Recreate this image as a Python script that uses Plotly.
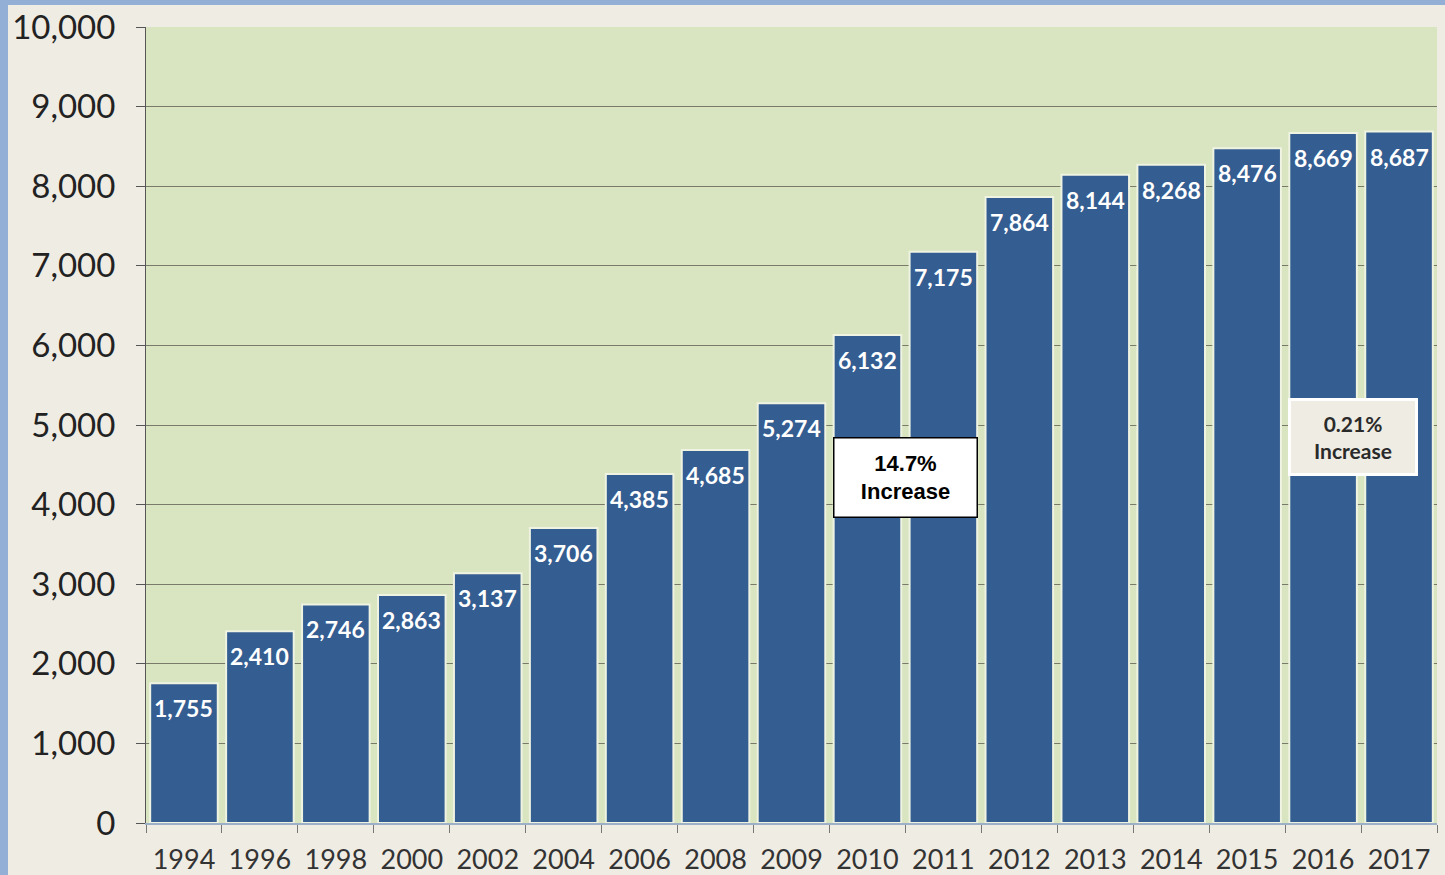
import plotly.graph_objects as go

years = ["1994", "1996", "1998", "2000", "2002", "2004", "2006", "2008", "2009",
         "2010", "2011", "2012", "2013", "2014", "2015", "2016", "2017"]
values = [1755, 2410, 2746, 2863, 3137, 3706, 4385, 4685, 5274,
          6132, 7175, 7864, 8144, 8268, 8476, 8669, 8687]
y_ticks = [0, 1000, 2000, 3000, 4000, 5000, 6000, 7000, 8000, 9000, 10000]
y_tick_labels = ["0", "1,000", "2,000", "3,000", "4,000", "5,000",
                 "6,000", "7,000", "8,000", "9,000", "10,000"]
bar_labels = [f"{v:,}" for v in values]

FONT = "Lato"

fig = go.Figure()
fig.add_trace(go.Bar(
    x=years, y=values,
    marker=dict(color="#345D91", line=dict(color="#EEF3E2", width=2)),
))

for i, (v, lbl) in enumerate(zip(values, bar_labels)):
    fig.add_annotation(
        x=i, y=v, xref="x", yref="y", text=f"<b>{lbl}</b>",
        showarrow=False, yanchor="top", yshift=-9,
        font=dict(family=FONT, size=23, color="white"),
    )

fig.update_layout(
    width=1445, height=875,
    margin=dict(l=146, r=8, t=27, b=52),
    paper_bgcolor="#EFECE4",
    plot_bgcolor="#D9E5C0",
    bargap=0.11,
    showlegend=False,
)
fig.update_yaxes(
    range=[0, 10000], tickvals=y_ticks, ticktext=y_tick_labels,
    showgrid=True, gridcolor="#7A7A6A", gridwidth=1,
    ticks="outside", ticklen=9, tickcolor="#555555",
    showline=True, linecolor="#555555", linewidth=1,
    tickfont=dict(family=FONT, size=33, color="#222222"),
    zeroline=False, ticklabelstandoff=14, automargin=False,
)
fig.update_xaxes(
    type="category",
    tickson="boundaries", ticks="outside", ticklen=8, tickcolor="#777777",
    showline=True, linecolor="#9DB0C8", linewidth=2,
    tickfont=dict(family=FONT, size=27, color="#333333"),
    ticklabelstandoff=12, automargin=False,
)

# annotations
fig.add_annotation(
    x=9.5, y=4340, xref="x", yref="y",
    text="<b>14.7%<br>Increase</b>", showarrow=False,
    font=dict(family="Liberation Sans", size=22, color="black"),
    bgcolor="white", bordercolor="black", borderwidth=1.5,
    borderpad=12, width=118,
)
fig.add_annotation(
    x=15.4, y=4850, xref="x", yref="y",
    text="<b>0.21%<br>Increase</b>", showarrow=False,
    font=dict(family=FONT, size=21, color="#2A2A2A"),
    bgcolor="#EFECE4", bordercolor="#FFFFFF", borderwidth=3,
    borderpad=10, width=104,
)

# page border strips
fig.add_shape(type="rect", xref="paper", yref="paper",
              x0=-146/1291, x1=-138/1291, y0=-52/796, y1=(796+27)/796,
              fillcolor="#94AFD6", line_width=0, layer="below")
fig.add_shape(type="rect", xref="paper", yref="paper",
              x0=-146/1291, x1=(1291+8)/1291, y0=(796+22)/796, y1=(796+27)/796,
              fillcolor="#94AFD6", line_width=0, layer="below")

fig.write_html("out.html", config={"displayModeBar": False},
               post_script="document.body.style.margin='0';document.body.style.overflow='hidden';")
